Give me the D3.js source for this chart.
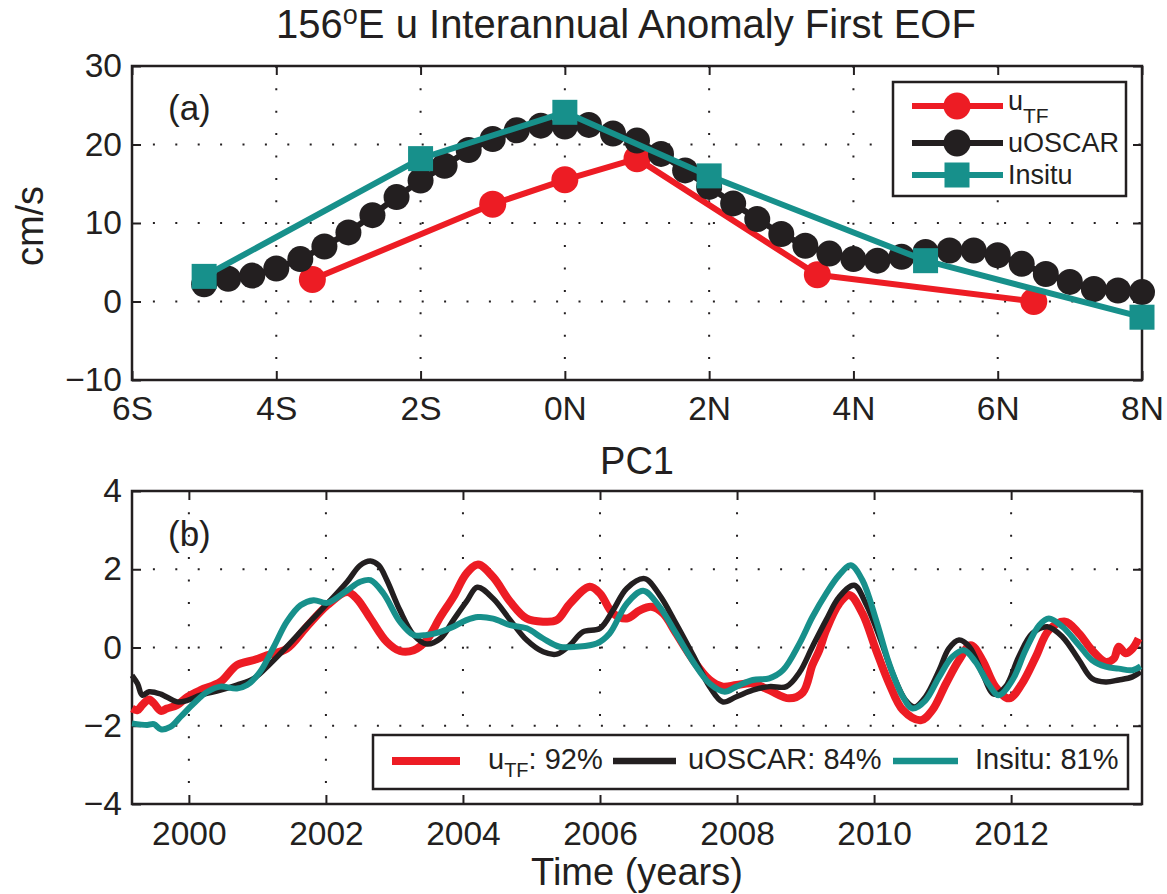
<!DOCTYPE html>
<html>
<head>
<meta charset="utf-8">
<script src="https://cdn.jsdelivr.net/npm/d3@7"></script>
<style>
  body { margin: 0; background: #fff; }
  svg { display: block; }
  text { font-family: "Liberation Sans", Arial, Helvetica, sans-serif; fill: #231f20; }
</style>
</head>
<body>
<svg id="chart" width="1167" height="894"></svg>
<script>
// ---------- Panel (a): first EOF of interannual u anomaly at 156E ----------
const latTicks = [-6, -4, -2, 0, 2, 4, 6, 8];
const latTickLabels = ["6S", "4S", "2S", "0N", "2N", "4N", "6N", "8N"];
const eofTicks = [-10, 0, 10, 20, 30];

const utfLat = [-3.5, -1, 0, 1, 3.5, 6.5];
const utfEOF = [2.8, 12.4, 15.5, 18.2, 3.4, 0.0];

const oscarLat = [-5, -4.667, -4.333, -4, -3.667, -3.333, -3, -2.667, -2.333, -2,
  -1.667, -1.333, -1, -0.667, -0.333, 0, 0.333, 0.667, 1, 1.333,
  1.667, 2, 2.333, 2.667, 3, 3.333, 3.667, 4, 4.333, 4.667,
  5, 5.333, 5.667, 6, 6.333, 6.667, 7, 7.333, 7.667, 8];
const oscarEOF = [2.2, 2.9, 3.3, 4.2, 5.4, 7.0, 8.8, 11.0, 13.3, 15.4,
  17.3, 19.3, 20.7, 21.8, 22.4, 22.3, 22.5, 21.4, 20.5, 18.8,
  16.7, 14.6, 12.5, 10.5, 8.6, 7.1, 6.1, 5.4, 5.2, 5.7,
  6.3, 6.5, 6.5, 5.9, 4.8, 3.5, 2.5, 1.6, 1.4, 1.2];

const insituLat = [-5, -2, 0, 2, 5, 8];
const insituEOF = [3.2, 18.2, 24.1, 16.0, 5.2, -2.0];

// ---------- Panel (b): PC1 time series ----------
const yearTicks = [2000, 2002, 2004, 2006, 2008, 2010, 2012];
const pcTicks = [-4, -2, 0, 2, 4];

const utfPC = [
  [1999.17,-1.56],[1999.25,-1.60],[1999.32,-1.47],[1999.42,-1.33],[1999.49,-1.43],[1999.59,-1.62],
  [1999.68,-1.56],[1999.83,-1.47],[1999.98,-1.26],[2000.17,-1.09],[2000.46,-0.88],[2000.70,-0.45],
  [2000.95,-0.32],[2001.14,-0.20],[2001.43,-0.03],[2001.72,0.53],[2002.02,1.08],[2002.31,1.42],
  [2002.45,1.25],[2002.65,0.74],[2002.89,0.14],[2003.08,-0.09],[2003.28,-0.07],[2003.47,0.19],
  [2003.67,0.78],[2003.86,1.29],[2004.05,1.89],[2004.22,2.12],[2004.44,1.80],[2004.69,1.17],
  [2004.93,0.74],[2005.17,0.66],[2005.37,0.70],[2005.56,1.12],[2005.85,1.55],[2006.00,1.38],
  [2006.19,0.87],[2006.39,0.74],[2006.58,0.95],[2006.75,1.04],[2006.92,0.87],[2007.11,0.36],
  [2007.36,-0.32],[2007.60,-0.83],[2007.79,-1.00],[2007.99,-0.96],[2008.23,-0.92],[2008.47,-1.09],
  [2008.76,-1.30],[2008.96,-1.15],[2009.10,-0.45],[2009.20,-0.07],[2009.30,0.44],[2009.49,1.12],
  [2009.64,1.34],[2009.83,0.87],[2010.03,-0.07],[2010.22,-0.92],[2010.42,-1.60],[2010.68,-1.86],
  [2010.85,-1.60],[2011.05,-0.92],[2011.24,-0.32],[2011.41,0.06],[2011.58,-0.32],[2011.77,-1.00],
  [2011.97,-1.30],[2012.16,-0.92],[2012.36,-0.24],[2012.55,0.44],[2012.79,0.66],[2012.99,0.36],
  [2013.18,-0.07],[2013.38,-0.37],[2013.50,-0.28],[2013.57,0.02],[2013.67,-0.15],[2013.77,-0.03],
  [2013.86,0.23]
];

const oscarPC = [
  [1999.17,-0.71],[1999.25,-0.92],[1999.32,-1.22],[1999.42,-1.13],[1999.59,-1.19],[1999.83,-1.39],
  [1999.98,-1.35],[2000.17,-1.22],[2000.46,-1.09],[2000.70,-0.96],[2000.95,-0.79],[2001.19,-0.41],
  [2001.43,0.02],[2001.72,0.57],[2002.02,1.12],[2002.31,1.68],[2002.50,2.10],[2002.65,2.21],
  [2002.77,2.10],[2002.89,1.72],[2003.08,0.95],[2003.28,0.32],[2003.47,0.09],[2003.67,0.23],
  [2003.86,0.70],[2004.05,1.17],[2004.21,1.54],[2004.44,1.25],[2004.69,0.70],[2004.93,0.19],
  [2005.17,-0.11],[2005.37,-0.17],[2005.56,0.06],[2005.75,0.40],[2006.00,0.49],[2006.19,0.95],
  [2006.39,1.51],[2006.65,1.76],[2006.87,1.34],[2007.11,0.61],[2007.36,-0.20],[2007.60,-1.00],
  [2007.79,-1.39],[2007.99,-1.26],[2008.23,-1.09],[2008.47,-1.00],[2008.72,-1.00],[2008.91,-0.64],
  [2009.10,0.02],[2009.30,0.70],[2009.49,1.29],[2009.71,1.59],[2009.88,1.12],[2010.08,0.27],
  [2010.27,-0.66],[2010.46,-1.35],[2010.59,-1.52],[2010.75,-1.26],[2010.95,-0.58],[2011.09,-0.03],
  [2011.24,0.19],[2011.39,0.02],[2011.58,-0.66],[2011.75,-1.19],[2011.92,-1.00],[2012.11,-0.24],
  [2012.31,0.36],[2012.53,0.53],[2012.75,0.27],[2012.99,-0.32],[2013.18,-0.79],[2013.38,-0.88],
  [2013.57,-0.83],[2013.77,-0.75],[2013.89,-0.62]
];

const insituPC = [
  [1999.17,-1.94],[1999.39,-1.98],[1999.49,-1.96],[1999.59,-2.09],[1999.73,-2.03],[1999.88,-1.77],
  [2000.07,-1.43],[2000.27,-1.13],[2000.46,-1.00],[2000.70,-1.05],[2000.85,-0.96],[2001.04,-0.62],
  [2001.24,0.02],[2001.43,0.66],[2001.63,1.08],[2001.82,1.21],[2002.02,1.14],[2002.31,1.46],
  [2002.50,1.68],[2002.65,1.72],[2002.84,1.38],[2003.08,0.66],[2003.28,0.32],[2003.47,0.32],
  [2003.67,0.40],[2003.86,0.53],[2004.05,0.70],[2004.22,0.78],[2004.44,0.74],[2004.69,0.57],
  [2004.93,0.49],[2005.17,0.23],[2005.41,0.02],[2005.66,0.02],[2005.95,0.10],[2006.14,0.36],
  [2006.39,1.12],[2006.63,1.45],[2006.87,1.04],[2007.11,0.36],[2007.36,-0.37],[2007.60,-0.92],
  [2007.82,-1.13],[2007.99,-1.00],[2008.23,-0.83],[2008.47,-0.79],[2008.67,-0.58],[2008.91,0.10],
  [2009.10,0.78],[2009.30,1.38],[2009.49,1.85],[2009.66,2.10],[2009.83,1.72],[2010.03,0.70],
  [2010.22,-0.41],[2010.42,-1.26],[2010.56,-1.56],[2010.75,-1.35],[2010.95,-0.75],[2011.14,-0.24],
  [2011.31,-0.07],[2011.48,-0.37],[2011.68,-0.96],[2011.82,-1.22],[2012.02,-0.83],[2012.21,-0.07],
  [2012.41,0.57],[2012.55,0.74],[2012.75,0.53],[2012.99,0.06],[2013.18,-0.32],[2013.38,-0.49],
  [2013.57,-0.54],[2013.77,-0.58],[2013.89,-0.48]
];

const explainedVar = [92, 84, 81];

// ---------- styling ----------
const ink = "#231f20";
const red = "#ed1c24";
const teal = "#17908b";
const tickFont = 33.5;
const labelFont = 38;

const svg = d3.select("#chart");

// Scales
const xA = d3.scaleLinear().domain([-6, 8]).range([132, 1142]);
const yA = d3.scaleLinear().domain([-10, 30]).range([380, 66]);
const xB = d3.scaleLinear().domain([1999.17, 2013.91]).range([132, 1142]);
const yB = d3.scaleLinear().domain([-4, 4]).range([804, 491]);

// Frame with dotted grid, inward ticks on all four sides and tick labels
function drawFrame(x, y, xTicks, xFormat, yTicks, xPad) {
  const g = svg.append("g");
  const [x0, x1] = x.range();
  const [y0, y1] = y.range();

  // dotted grid
  g.selectAll("line.gx").data(xTicks).join("line")
    .attr("x1", d => x(d)).attr("x2", d => x(d))
    .attr("y1", y0).attr("y2", y1)
    .attr("stroke", ink).attr("stroke-width", 2)
    .attr("stroke-dasharray", "2,20.4").attr("stroke-dashoffset", 1.5);
  g.selectAll("line.gy").data(yTicks).join("line")
    .attr("x1", x0).attr("x2", x1)
    .attr("y1", d => y(d)).attr("y2", d => y(d))
    .attr("stroke", ink).attr("stroke-width", 2)
    .attr("stroke-dasharray", "2,20.4").attr("stroke-dashoffset", 1.5);

  const styleAxis = sel => {
    sel.select(".domain").remove();
    sel.selectAll(".tick line").attr("stroke", ink).attr("stroke-width", 2);
    sel.selectAll(".tick text").attr("font-size", tickFont)
      .attr("font-family", "Liberation Sans, Arial, Helvetica, sans-serif")
      .attr("fill", ink);
  };

  g.append("g").attr("transform", `translate(0,${y0})`)
    .call(d3.axisBottom(x).tickValues(xTicks).tickFormat(xFormat)
      .tickSizeInner(-9).tickSizeOuter(0).tickPadding(xPad))
    .call(styleAxis);
  g.append("g").attr("transform", `translate(0,${y1})`)
    .call(d3.axisTop(x).tickValues(xTicks).tickFormat("")
      .tickSizeInner(-9).tickSizeOuter(0))
    .call(styleAxis);
  g.append("g").attr("transform", `translate(${x0},0)`)
    .call(d3.axisLeft(y).tickValues(yTicks).tickFormat(d3.format("d"))
      .tickSizeInner(-9).tickSizeOuter(0).tickPadding(10))
    .call(styleAxis);
  g.append("g").attr("transform", `translate(${x1},0)`)
    .call(d3.axisRight(y).tickValues(yTicks).tickFormat("")
      .tickSizeInner(-9).tickSizeOuter(0))
    .call(styleAxis);

  g.append("rect")
    .attr("x", x0).attr("y", y1)
    .attr("width", x1 - x0).attr("height", y0 - y1)
    .attr("fill", "none").attr("stroke", ink).attr("stroke-width", 2.5);
  return g;
}

// ---------- Panel (a) ----------
drawFrame(xA, yA, latTicks, (d, i) => latTickLabels[i], eofTicks, 16);

const lineA = d3.line().x(d => xA(d[0])).y(d => yA(d[1]));
const utfA = d3.zip(utfLat, utfEOF);
const oscarA = d3.zip(oscarLat, oscarEOF);
const insituA = d3.zip(insituLat, insituEOF);

const gA = svg.append("g");
gA.append("path").datum(utfA).attr("d", lineA)
  .attr("fill", "none").attr("stroke", red).attr("stroke-width", 6).attr("stroke-linejoin", "round");
gA.selectAll("circle.utf").data(utfA).join("circle")
  .attr("cx", d => xA(d[0])).attr("cy", d => yA(d[1])).attr("r", 13.5).attr("fill", red);

gA.append("path").datum(oscarA).attr("d", lineA)
  .attr("fill", "none").attr("stroke", ink).attr("stroke-width", 6).attr("stroke-linejoin", "round");
gA.selectAll("circle.oscar").data(oscarA).join("circle")
  .attr("cx", d => xA(d[0])).attr("cy", d => yA(d[1])).attr("r", 13).attr("fill", ink);

gA.append("path").datum(insituA).attr("d", lineA)
  .attr("fill", "none").attr("stroke", teal).attr("stroke-width", 6).attr("stroke-linejoin", "round");
gA.selectAll("rect.insitu").data(insituA).join("rect")
  .attr("x", d => xA(d[0]) - 12.5).attr("y", d => yA(d[1]) - 12.5)
  .attr("width", 25).attr("height", 25).attr("fill", teal);

// panel letter
svg.append("text").attr("x", 168).attr("y", 120).attr("font-size", 35).text("(a)");

// legend (a)
const legA = svg.append("g");
legA.append("rect").attr("x", 893).attr("y", 82).attr("width", 233).attr("height", 114)
  .attr("fill", "#fff").attr("stroke", ink).attr("stroke-width", 2.5);
const legRowsA = [
  { y: 106, color: red, marker: "circle" },
  { y: 143, color: ink, marker: "circle" },
  { y: 175, color: teal, marker: "square" }
];
legRowsA.forEach(r => {
  legA.append("line").attr("x1", 912).attr("x2", 1003).attr("y1", r.y).attr("y2", r.y)
    .attr("stroke", r.color).attr("stroke-width", 6);
  if (r.marker === "circle") {
    legA.append("circle").attr("cx", 957).attr("cy", r.y).attr("r", 13.5).attr("fill", r.color);
  } else {
    legA.append("rect").attr("x", 957 - 12.5).attr("y", r.y - 12.5)
      .attr("width", 25).attr("height", 25).attr("fill", r.color);
  }
});
const tUtf = legA.append("text").attr("x", 1008).attr("y", 110).attr("font-size", 27);
tUtf.append("tspan").text("u");
tUtf.append("tspan").attr("dy", 13).attr("font-size", 21).text("TF");
legA.append("text").attr("x", 1008).attr("y", 152).attr("font-size", 27).text("uOSCAR");
legA.append("text").attr("x", 1008).attr("y", 184).attr("font-size", 27).text("Insitu");

// titles and labels
const title = svg.append("text").attr("x", 626).attr("y", 38)
  .attr("text-anchor", "middle").attr("font-size", 40);
title.append("tspan").text("156");
title.append("tspan").attr("dy", -14).attr("font-size", 27).text("o");
title.append("tspan").attr("dy", 14).text("E u Interannual Anomaly First EOF");

svg.append("text").attr("transform", "translate(43,226) rotate(-90)")
  .attr("text-anchor", "middle").attr("font-size", labelFont).text("cm/s");

svg.append("text").attr("x", 637).attr("y", 474)
  .attr("text-anchor", "middle").attr("font-size", labelFont).text("PC1");

// ---------- Panel (b) ----------
drawFrame(xB, yB, yearTicks, d3.format("d"), pcTicks, 17);

const lineB = d3.line().x(d => xB(d[0])).y(d => yB(d[1])).curve(d3.curveCatmullRom.alpha(0.5));
const gB = svg.append("g");
gB.append("path").datum(utfPC).attr("d", lineB).attr("fill", "none")
  .attr("stroke", red).attr("stroke-width", 8).attr("stroke-linejoin", "round");
gB.append("path").datum(oscarPC).attr("d", lineB).attr("fill", "none")
  .attr("stroke", ink).attr("stroke-width", 5.5).attr("stroke-linejoin", "round");
gB.append("path").datum(insituPC).attr("d", lineB).attr("fill", "none")
  .attr("stroke", teal).attr("stroke-width", 6).attr("stroke-linejoin", "round");

svg.append("text").attr("x", 168).attr("y", 546).attr("font-size", 35).text("(b)");

svg.append("text").attr("x", 637).attr("y", 885)
  .attr("text-anchor", "middle").attr("font-size", labelFont).text("Time (years)");

// legend (b)
const legB = svg.append("g");
legB.append("rect").attr("x", 373).attr("y", 735).attr("width", 755).attr("height", 54)
  .attr("fill", "#fff").attr("stroke", ink).attr("stroke-width", 2.5);
const legItemsB = [
  { x1: 392, x2: 460, tx: 488, color: red, w: 8, name: "u", sub: "TF", pct: explainedVar[0] },
  { x1: 613, x2: 676, tx: 688, color: ink, w: 6.5, name: "uOSCAR", sub: "", pct: explainedVar[1] },
  { x1: 893, x2: 958, tx: 975, color: teal, w: 6.5, name: "Insitu", sub: "", pct: explainedVar[2] }
];
legItemsB.forEach(it => {
  legB.append("line").attr("x1", it.x1).attr("x2", it.x2).attr("y1", 761).attr("y2", 761)
    .attr("stroke", it.color).attr("stroke-width", it.w);
  const t = legB.append("text").attr("x", it.tx).attr("y", 769).attr("font-size", 29);
  t.append("tspan").text(it.name);
  if (it.sub) {
    t.append("tspan").attr("dy", 8).attr("font-size", 20).text(it.sub);
    t.append("tspan").attr("dy", -8).text(": " + it.pct + "%");
  } else {
    t.append("tspan").text(": " + it.pct + "%");
  }
});
</script>
</body>
</html>
